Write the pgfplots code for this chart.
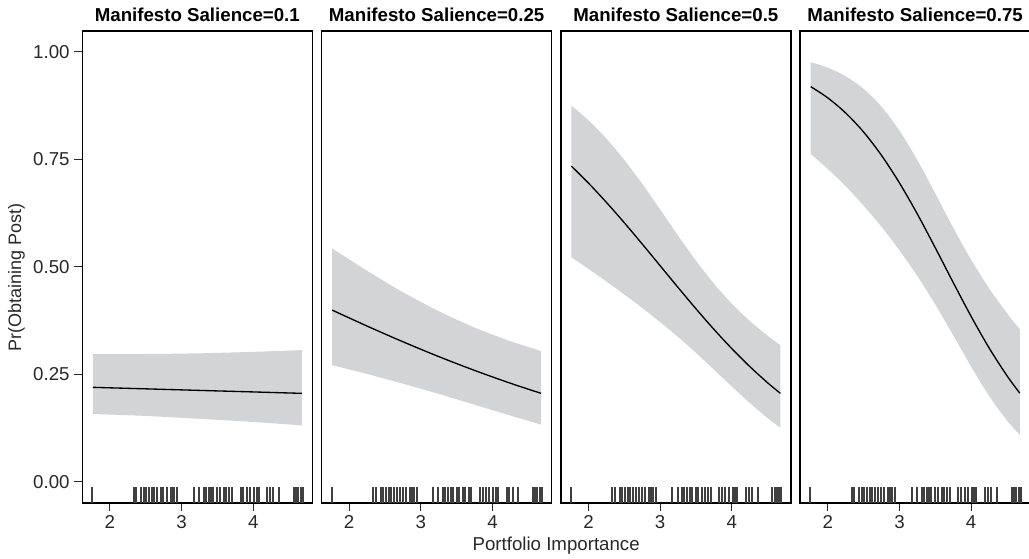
\documentclass[border=0pt]{standalone}
\usepackage{fontspec}
\setmainfont{Liberation Sans}
\usepackage{pgfplots}
\pgfplotsset{compat=1.18}
\usepgfplotslibrary{fillbetween}
\usepackage{pgfplotstable}

\definecolor{ribbon}{RGB}{211,212,214}
\definecolor{rugc}{RGB}{64,64,64}
\definecolor{tickc}{RGB}{40,40,40}

\pgfplotstableread{
x y
1.755 -0.049
2.335 -0.049
2.368 -0.049
2.440 -0.049
2.474 -0.049
2.510 -0.049
2.550 -0.049
2.586 -0.049
2.620 -0.049
2.660 -0.049
2.707 -0.049
2.745 -0.049
2.790 -0.049
2.847 -0.049
2.874 -0.049
2.900 -0.049
2.940 -0.049
3.170 -0.049
3.245 -0.049
3.311 -0.049
3.339 -0.049
3.377 -0.049
3.414 -0.049
3.442 -0.049
3.498 -0.049
3.534 -0.049
3.590 -0.049
3.618 -0.049
3.665 -0.049
3.702 -0.049
3.823 -0.049
3.860 -0.049
3.907 -0.049
3.953 -0.049
4.009 -0.049
4.046 -0.049
4.074 -0.049
4.195 -0.049
4.232 -0.049
4.280 -0.049
4.360 -0.049
4.566 -0.049
4.594 -0.049
4.622 -0.049
4.660 -0.049
4.688 -0.049
}\rugdata

% panel 3: x upper lower line
\pgfplotstableread{
x u l m
1.763 0.8741 0.5218 0.7335
2.00  0.8403 0.4949 0.6943
2.25  0.7977 0.4656 0.6495
2.50  0.7481 0.4354 0.6021
2.75  0.6924 0.4041 0.5526
3.00  0.6327 0.3711 0.5021
3.25  0.5721 0.3364 0.4515
3.50  0.5136 0.2995 0.4019
3.75  0.4604 0.2607 0.3542
4.00  0.4137 0.2213 0.3093
4.25  0.3737 0.1830 0.2677
4.50  0.3392 0.1478 0.2298
4.676 0.3177 0.1256 0.2055
}\pthree

% panel 4
\pgfplotstableread{
x u l m
1.763 0.9755 0.7619 0.9185
2.00  0.9627 0.7273 0.8925
2.25  0.9427 0.6869 0.8573
2.50  0.9133 0.6420 0.8130
2.75  0.8718 0.5926 0.7587
3.00  0.8164 0.5381 0.6947
3.25  0.7476 0.4780 0.6222
3.50  0.6697 0.4118 0.5437
3.75  0.5902 0.3405 0.4630
4.00  0.5159 0.2676 0.3842
4.25  0.4496 0.1997 0.3110
4.50  0.3915 0.1423 0.2463
4.678 0.3545 0.1092 0.2060
}\pfour

% panel 2
\pgfplotstableread{
x u l m
1.763 0.5425 0.2710 0.3990
2.25  0.4904 0.2505 0.3619
2.75  0.4406 0.2280 0.3254
3.25  0.3964 0.2041 0.2909
3.75  0.3584 0.1790 0.2587
4.25  0.3266 0.1538 0.2289
4.676 0.3038 0.1329 0.2055
}\ptwo

% panel 1
\pgfplotstableread{
x u l m
1.763 0.2970 0.1574 0.2195
2.50  0.2970 0.1530 0.2160
3.22  0.2985 0.1466 0.2125
4.00  0.3020 0.1390 0.2088
4.676 0.3060 0.1310 0.2055
}\pone

\pgfplotsset{
  panel/.style={
    anchor=south west,
    scale only axis, width=172.5pt, height=353.8pt,
    xmin=1.615, xmax=4.823, ymin=-0.049, ymax=1.048,
    axis line style={black, line width=1.1pt},
    xtick={2,3,4}, xticklabels={2,3,4}, xtick pos=bottom, ytick pos=left,
    tick align=outside, major tick length=6pt,
    tick style={tickc, line width=0.8pt},
    ticklabel style={font=\fontsize{14}{16}\selectfont, text=tickc},
    title style={font=\bfseries\fontsize{14}{16}\selectfont, at={(0.5,1)}, anchor=base, yshift=0.75pt},
  },
  rug/.style={rugc, line width=1.5pt, quiver={u=0, v=0.036}},
  fit/.style={black, line width=1pt, smooth},
}

\newcommand{\panelplots}[2]{%
  \addplot[draw=none, smooth, name path=U#2] table[x=x, y=u] {#1};
  \addplot[draw=none, smooth, name path=L#2] table[x=x, y=l] {#1};
  \addplot[fill=ribbon, draw=none] fill between[of=U#2 and L#2];
  \addplot[fit] table[x=x, y=m] {#1};
  \addplot[rug] table[x=x, y=y] {\rugdata};
}

\begin{document}
\begin{tikzpicture}

\begin{axis}[panel, at={(0pt,0pt)}, title={Manifesto Salience=0.1},
  ytick={0,0.25,0.5,0.75,1}, yticklabels={0.00,0.25,0.50,0.75,1.00}]
\panelplots{\pone}{a}
\end{axis}

\begin{axis}[panel, at={(179.4pt,0pt)}, title={Manifesto Salience=0.25}, ytick=\empty]
\panelplots{\ptwo}{b}
\end{axis}

\begin{axis}[panel, at={(358.8pt,0pt)}, title={Manifesto Salience=0.5}, ytick=\empty]
\panelplots{\pthree}{c}
\end{axis}

\begin{axis}[panel, at={(538.2pt,0pt)}, title={Manifesto Salience=0.75}, ytick=\empty]
\panelplots{\pfour}{d}
\end{axis}

\node[anchor=base, font=\fontsize{14}{16}\selectfont, text=tickc] at (355.3pt,-36pt) {Portfolio Importance};
\node[anchor=center, rotate=90, font=\fontsize{13.5}{16}\selectfont, text=tickc] at (-49.4pt,169pt) {Pr(Obtaining Post)};
\pgfresetboundingbox
\path[use as bounding box] (-61.7pt,-41.5pt) rectangle (709.8pt,377pt);
\end{tikzpicture}
\end{document}
